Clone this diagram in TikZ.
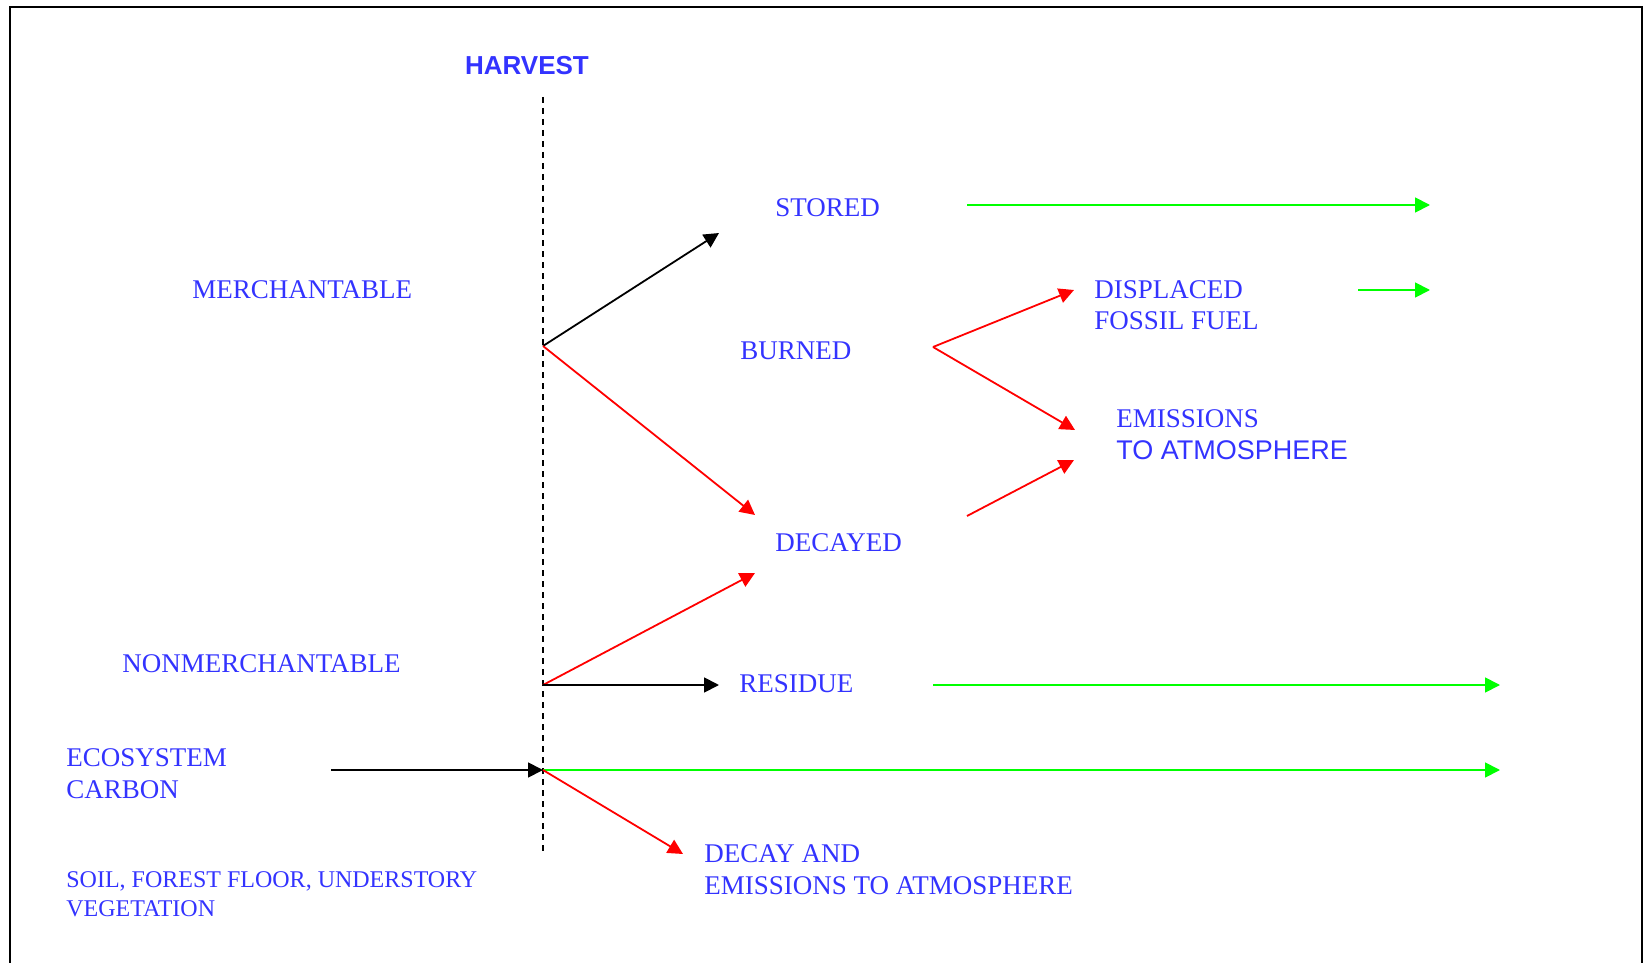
\documentclass[tikz,border=0pt]{standalone}
\usepackage{fontspec}
\setmainfont{Liberation Serif}
\newfontfamily\arialfont{Liberation Sans}
\usetikzlibrary{arrows.meta}
\definecolor{txtblue}{RGB}{51,51,255}
\definecolor{flowgreen}{RGB}{0,255,0}
\definecolor{flowred}{RGB}{255,0,0}

\begin{document}
\begin{tikzpicture}[x=0.5pt,y=-0.5pt,
    lbl/.style={text=txtblue, inner sep=0pt, anchor=base west, align=left,
        font=\fontsize{13.5}{16}\selectfont},
    flow/.style={line width=0.9pt, -{Triangle[length=7.5pt,width=7.5pt]}}]
    \useasboundingbox (0,0) rectangle (1645,963);
    \draw[line width=1pt] (10,963) -- (10,7) -- (1642,7) -- (1642,963);
    \coordinate (Htop) at (543,97);
    \coordinate (Hbot) at (543,854);
    \draw[dash pattern=on 3pt off 2.5pt, line width=0.8pt] (Htop) -- (Hbot);
    \node[text=txtblue, inner sep=0pt, anchor=base,
        font=\arialfont\bfseries\fontsize{13}{15}\selectfont] (harvest) at (527,75) {HARVEST};
    \node[lbl] (stored) at (775,217) {STORED};
    \node[lbl] (merch) at (192,298) {MERCHANTABLE};
    \node[lbl] (burned) at (740,359) {BURNED};
    \node[lbl, font=\fontsize{13.5}{15.5}\selectfont] (displaced) at (1094,329) {DISPLACED\\FOSSIL FUEL};
    \node[lbl] (emissions) at (1116,459) {EMISSIONS\\{\arialfont TO ATMOSPHERE}};
    \node[lbl] (decayed) at (775,551) {DECAYED};
    \node[lbl] (nonmerch) at (122,672) {NONMERCHANTABLE};
    \node[lbl] (residue) at (739,692) {RESIDUE};
    \node[lbl] (ecocarbon) at (66,798) {ECOSYSTEM\\CARBON};
    \node[lbl, font=\fontsize{12}{14.5}\selectfont] (soil) at (66,916) {SOIL, FOREST FLOOR, UNDERSTORY\\VEGETATION};
    \node[lbl] (decayem) at (704,894) {DECAY AND\\EMISSIONS TO ATMOSPHERE};
    \coordinate (mfork) at (543,346);
    \coordinate (nfork) at (543,685);
    \coordinate (efork) at (543,770);
    \coordinate (bfork) at (933,347);
    \coordinate (storedtip) at (719,233);
    \coordinate (decaytipA) at (755,515);
    \coordinate (decaytipB) at (755,573);
    \coordinate (disptip) at (1074,290);
    \coordinate (emtipA) at (1075,430);
    \coordinate (emtipB) at (1074,460);
    \coordinate (decstart) at (967,516);
    \coordinate (storedgo) at (967,205);
    \coordinate (storedend) at (1430,205);
    \coordinate (dispgo) at (1358,290);
    \coordinate (dispend) at (1430,290);
    \coordinate (restip) at (719,685);
    \coordinate (resgo) at (933,685);
    \coordinate (resend) at (1500,685);
    \coordinate (ecostart) at (331,770);
    \coordinate (ecoend) at (1500,770);
    \coordinate (soiltip) at (683,854);
    \draw[flow] (mfork) -- (storedtip);
    \draw[flow, flowred] (mfork) -- (decaytipA);
    \draw[flow, flowred] (bfork) -- (disptip);
    \draw[flow, flowred] (bfork) -- (emtipA);
    \draw[flow, flowred] (decstart) -- (emtipB);
    \draw[flow, flowgreen] (storedgo) -- (storedend);
    \draw[flow, flowgreen] (dispgo) -- (dispend);
    \draw[flow, flowred] (nfork) -- (decaytipB);
    \draw[flow] (nfork) -- (restip);
    \draw[flow, flowgreen] (resgo) -- (resend);
    \draw[flow] (ecostart) -- (efork);
    \draw[flow, flowgreen] (efork) -- (ecoend);
    \draw[flow, flowred] (efork) -- (soiltip);
\end{tikzpicture}
\end{document}
